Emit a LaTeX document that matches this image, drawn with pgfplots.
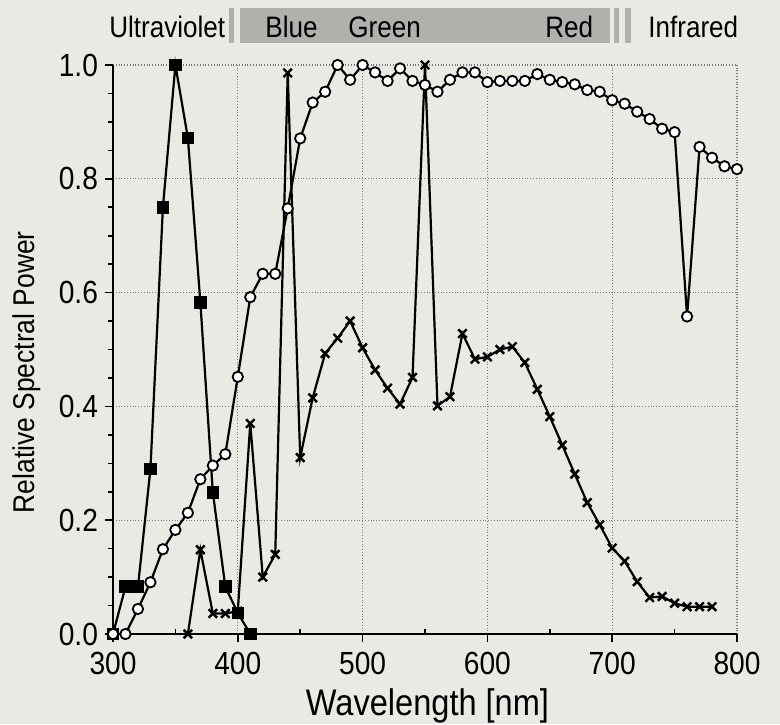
\documentclass[border=0pt]{standalone}
\usepackage{pgfplots}
\pgfplotsset{compat=1.18}
\usepackage{fontspec}
\setmainfont{Liberation Sans}[FakeStretch=0.88]
\definecolor{bg}{RGB}{233,234,228}
\definecolor{band}{RGB}{176,176,173}
\definecolor{gridc}{RGB}{120,120,120}
\begin{document}
\begin{tikzpicture}
% page background (1 px of the reference = 0.5pt)
\fill[bg] (-56.5pt,-45pt) rectangle (333.5pt,317pt);
\begin{axis}[
    scale only axis,
    width=312pt, height=284.5pt,
    xmin=300, xmax=800, ymin=0, ymax=1,
    axis x line*=bottom, axis y line*=left,
    axis line style={-, line width=1.1pt},
    xtick={300,400,...,800},
    ytick={0,0.2,...,1.0},
    minor x tick num=1, minor y tick num=3,
    tick align=outside,
    major tick length=4pt, minor tick length=2.5pt,
    every tick/.style={black, line width=0.8pt},
    minor x tick style={yshift=2.5pt},
    grid=major,
    major grid style={gridc, densely dotted, line width=0.6pt},
    yticklabel style={/pgf/number format/fixed, /pgf/number format/fixed zerofill,
                      /pgf/number format/precision=1},
    /pgf/number format/assume math mode=true,
    ticklabel style={font=\fontsize{16}{18}\selectfont},
    xticklabel style={yshift=-1.5pt},
    xlabel={Wavelength [nm]},
    ylabel={Relative Spectral Power},
    xlabel style={font=\fontsize{18.5}{20}\selectfont, at={(axis description cs:0.504,-0.1424)}, anchor=base},
    ylabel style={font=\fontsize{15}{17}\selectfont, at={(axis description cs:-0.138,0.46)}, anchor=center},
    clip=false,
]
% spectral band above the plot
\fill[band] (axis cs:401.6,1.039) rectangle (axis cs:698,1.100);
\fill[band] (axis cs:393,1.039) rectangle (axis cs:397,1.100);
\fill[band] (axis cs:701.6,1.039) rectangle (axis cs:705.6,1.100);
\fill[band] (axis cs:710,1.039) rectangle (axis cs:715,1.100);
\begin{scope}[every node/.style={anchor=base, font=\fontsize{14.8}{16}\selectfont}]
\node at (axis cs:343.5,1.049) {Ultraviolet};
\node at (axis cs:443,1.049) {Blue};
\node at (axis cs:517.6,1.049) {Green};
\node at (axis cs:665.6,1.049) {Red};
\node at (axis cs:765,1.049) {Infrared};
\end{scope}

% squares
\addplot[black, line width=1.1pt, mark=square*, mark size=2.6pt,
         mark options={fill=black}] coordinates {
(300,0) (310,0.083) (320,0.083) (330,0.29) (340,0.75) (350,1.0)
(360,0.872) (370,0.583) (380,0.249) (390,0.083) (400,0.037) (410,0)};

% crosses
\addplot[black, line width=1.1pt, mark=x, mark size=3pt,
         mark options={line width=1.2pt}] coordinates {
(360,0) (370,0.148) (380,0.036) (390,0.036) (400,0.04) (410,0.370)
(420,0.10) (430,0.14) (440,0.986) (450,0.31) (460,0.415) (470,0.493)
(480,0.52) (490,0.55) (500,0.503) (510,0.464) (520,0.432) (530,0.404)
(540,0.451) (550,1.0) (560,0.401) (570,0.417) (580,0.528) (590,0.483)
(600,0.487) (610,0.50) (620,0.505) (630,0.477) (640,0.43) (650,0.382)
(660,0.332) (670,0.281) (680,0.231) (690,0.192) (700,0.151) (710,0.128)
(720,0.092) (730,0.064) (740,0.066) (750,0.054) (760,0.048) (770,0.048)
(780,0.048)};

% circles
\addplot[black, line width=1.1pt, mark=*, mark size=2.6pt,
         mark options={fill=white, line width=0.9pt}] coordinates {
(300,0) (310,0) (320,0.044) (330,0.091) (340,0.149) (350,0.183)
(360,0.213) (370,0.272) (380,0.296) (390,0.316) (400,0.452) (410,0.592)
(420,0.633) (430,0.633) (440,0.748) (450,0.871) (460,0.934) (470,0.953)
(480,1.0) (490,0.974) (500,1.0) (510,0.987) (520,0.972) (530,0.994)
(540,0.972) (550,0.965) (560,0.953) (570,0.974) (580,0.987) (590,0.987)
(600,0.970) (610,0.972) (620,0.972) (630,0.972) (640,0.984) (650,0.974)
(660,0.970) (670,0.966) (680,0.956) (690,0.953) (700,0.938) (710,0.932)
(720,0.918) (730,0.905) (740,0.888) (750,0.882) (760,0.558) (770,0.856)
(780,0.837) (790,0.822) (800,0.817)};
\end{axis}
\pgfresetboundingbox
\useasboundingbox (-56.5pt,-45pt) rectangle (333.5pt,317pt);
\end{tikzpicture}
\end{document}
